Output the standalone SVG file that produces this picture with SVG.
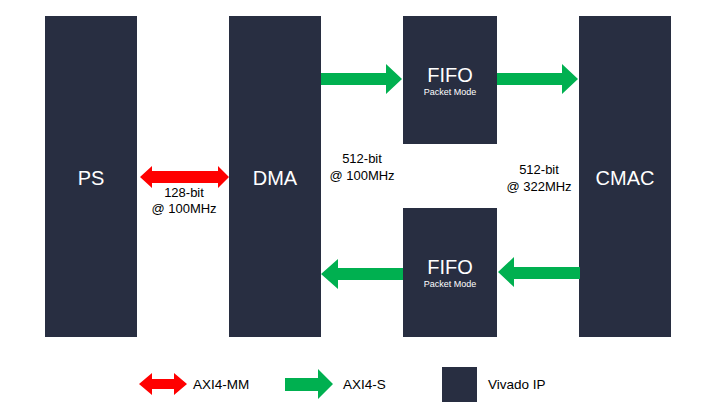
<svg xmlns="http://www.w3.org/2000/svg" width="712" height="413" viewBox="0 0 712 413">
<style>
.box{fill:#282e41}
.big{font-family:"Liberation Sans",Arial,sans-serif;font-size:20px;fill:#fff;text-anchor:middle}
.small{font-family:"Liberation Sans",Arial,sans-serif;font-size:9px;fill:#fff;text-anchor:middle}
.lbl{font-family:"Liberation Sans",Arial,sans-serif;font-size:13px;fill:#000;text-anchor:middle}
.leg{font-family:"Liberation Sans",Arial,sans-serif;font-size:13.5px;fill:#000}
.g{fill:#00b050}
.r{fill:#ff0000}
</style>
<rect width="712" height="413" fill="#fff"/>
<g id="ps"><rect class="box" x="45" y="16" width="92" height="321"/><text class="big" x="91" y="185">PS</text></g>
<g id="dma"><rect class="box" x="229" y="16" width="92" height="321"/><text class="big" x="275" y="185">DMA</text></g>
<g id="fifo-top"><rect class="box" x="403" y="16" width="94" height="128"/><text class="big" x="450" y="82">FIFO</text><text class="small" x="450" y="95">Packet Mode</text></g>
<g id="fifo-bottom"><rect class="box" x="403" y="208" width="94" height="129"/><text class="big" x="450" y="274">FIFO</text><text class="small" x="450" y="287">Packet Mode</text></g>
<g id="cmac"><rect class="box" x="579" y="16" width="92" height="321"/><text class="big" x="625" y="185">CMAC</text></g>
<g id="connectors">
<polygon class="r" points="140,177 152,166 152,171 218,171 218,166 229,177 218,188 218,183 152,183 152,188"/>
<polygon class="g" points="321,73 386,73 386,64 402,79 386,94 386,85 321,85"/>
<polygon class="g" points="497,73 562,73 562,64 578,79 562,94 562,85 497,85"/>
<polygon class="g" points="403,268 338,268 338,259 321,274 338,289 338,280 403,280"/>
<polygon class="g" points="580,267 514,267 514,257 498,272 514,287 514,279 580,279"/>
</g>
<g id="labels">
<text class="lbl" x="184" y="197">128-bit</text>
<text class="lbl" x="184" y="213">@ 100MHz</text>
<text class="lbl" x="362" y="163">512-bit</text>
<text class="lbl" x="362" y="180">@ 100MHz</text>
<text class="lbl" x="539" y="174">512-bit</text>
<text class="lbl" x="539" y="191">@ 322MHz</text>
</g>
<g id="legend">
<polygon class="r" points="139,384 152,373 152,379 174,379 174,373 187,384 174,395 174,389 152,389 152,395"/>
<text class="leg" x="193" y="389">AXI4-MM</text>
<polygon class="g" points="285,378 318,378 318,369 333,384 318,399 318,391 285,391"/>
<text class="leg" x="343" y="389">AXI4-S</text>
<rect class="box" x="442" y="367" width="35" height="35"/>
<text class="leg" x="488" y="389">Vivado IP</text>
</g>
</svg>
